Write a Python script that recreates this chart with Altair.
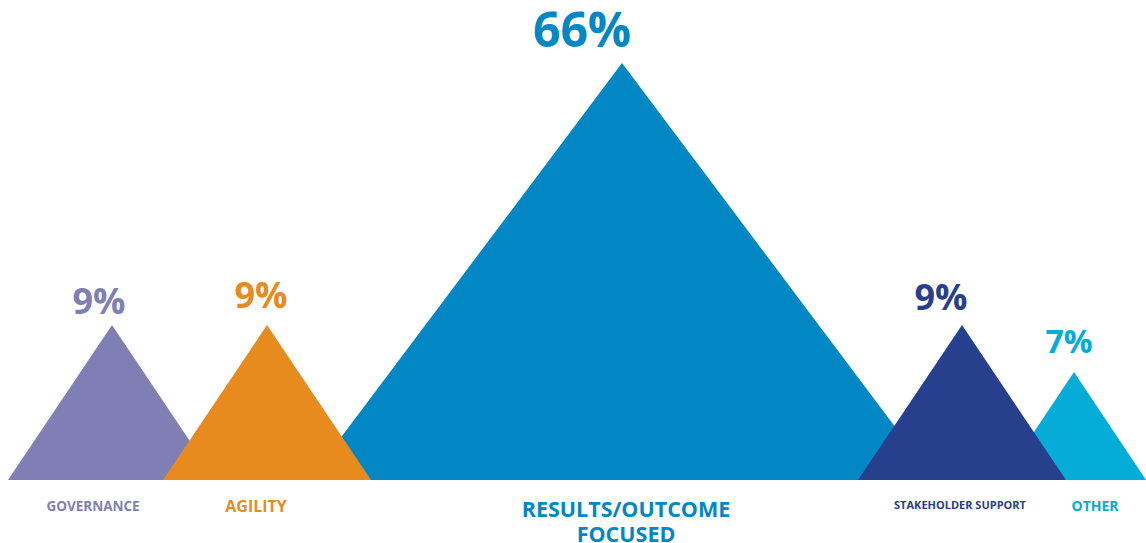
import altair as alt
import pandas as pd

# ---- data ----
categories = ["GOVERNANCE", "AGILITY", "RESULTS/OUTCOME\nFOCUSED", "STAKEHOLDER SUPPORT", "OTHER"]
pct_labels = ["9%", "9%", "66%", "9%", "7%"]
colors = ["#7f7fb6", "#e88b1f", "#0287c5", "#26408d", "#04acd7"]
apex_x = [112, 267, 622, 962, 1074]
half_width = [104, 104, 313, 104, 72]
apex_height = [155, 155, 417, 155, 108]
draw_order = [0, 2, 1, 4, 3]  # back to front

pct_x = [99, 261, 582, 941, 1069]
pct_y = [166, 172, 433, 170, 127]
pct_size = [36, 36, 48, 36, 32]
cat_x = [93, 256, 626, 960, 1095]
cat_y = [-31, -32, -37, -29, -31]
cat_size = [13.5, 16, 21.5, 11, 14]

FONT = "Open Sans"

x_scale = alt.Scale(domain=[0, 1146], nice=False, zero=False)
y_scale = alt.Scale(domain=[-63, 480], nice=False, zero=False)

layers = []
for i in draw_order:
    tri = pd.DataFrame({
        "x": [apex_x[i] - half_width[i], apex_x[i], apex_x[i] + half_width[i]],
        "y": [0, apex_height[i], 0],
    })
    layers.append(
        alt.Chart(tri).mark_area(color=colors[i], opacity=1, interpolate="linear").encode(
            x=alt.X("x:Q", scale=x_scale, axis=None),
            y=alt.Y("y:Q", scale=y_scale, axis=None, stack=None),
            y2=alt.datum(0),
        )
    )

pct_df = pd.DataFrame({"x": pct_x, "y": pct_y, "t": pct_labels, "s": pct_size, "c": colors})
pct_text = alt.Chart(pct_df).mark_text(font=FONT, fontWeight="bold", baseline="alphabetic", align="center").encode(
    x=alt.X("x:Q", scale=x_scale, axis=None),
    y=alt.Y("y:Q", scale=y_scale, axis=None),
    text="t:N",
    size=alt.Size("s:Q", scale=None, legend=None),
    color=alt.Color("c:N", scale=None, legend=None),
)

cat_df = pd.DataFrame({"x": cat_x, "y": cat_y, "t": categories, "s": cat_size, "c": colors})
cat_text = alt.Chart(cat_df).mark_text(font=FONT, fontWeight="bold", baseline="alphabetic", align="center",
                                       lineBreak="\n", lineHeight=25).encode(
    x=alt.X("x:Q", scale=x_scale, axis=None),
    y=alt.Y("y:Q", scale=y_scale, axis=None),
    text="t:N",
    size=alt.Size("s:Q", scale=None, legend=None),
    color=alt.Color("c:N", scale=None, legend=None),
)

chart = alt.layer(*layers, pct_text, cat_text).properties(
    width=1146, height=543, padding=0, autosize=alt.AutoSizeParams(type="none"),
    background="white",
).configure_view(stroke=None)

chart.save("out.html", embed_options={"renderer": "svg", "actions": False})
